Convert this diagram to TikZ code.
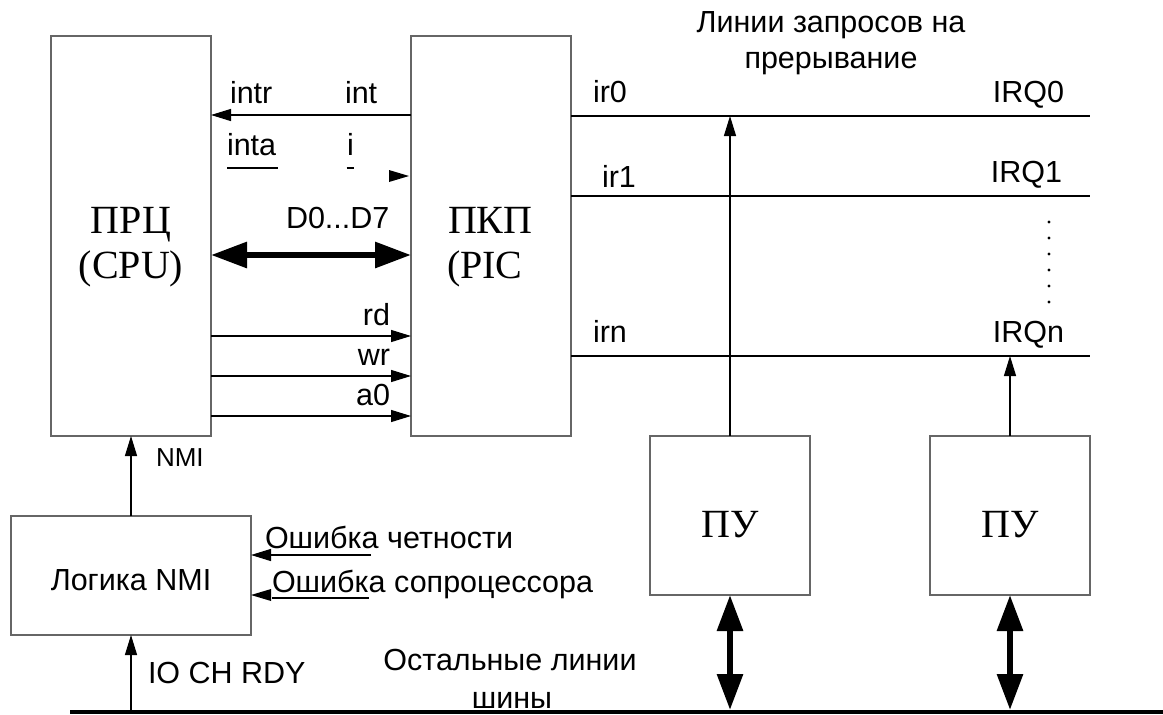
\documentclass[tikz,border=0pt]{standalone}
\usepackage{fontspec}
\setmainfont{Liberation Serif}
\setsansfont{Liberation Sans}
\usetikzlibrary{arrows.meta}
\begin{document}
\begin{tikzpicture}[x=1pt,y=-1pt,
  box/.style={draw=black!60,line width=1.5pt,rectangle,outer sep=0pt,inner sep=0pt},
  lab/.style={font=\sffamily\fontsize{30.5}{35}\selectfont,inner sep=0pt,outer sep=0pt},
  smalllab/.style={font=\sffamily\fontsize{26}{30}\selectfont,inner sep=0pt,outer sep=0pt},
  big/.style={font=\rmfamily\fontsize{40}{45}\selectfont,inner sep=0pt,outer sep=0pt},
  wire/.style={line width=1.3pt,black},
  thinarr/.style={wire,-{Triangle[length=20pt,width=12pt]}},
  busarr/.style={line width=6pt,{Triangle[length=36pt,width=25pt]}-{Triangle[length=36pt,width=25pt]}},
  uline/.style={line width=2.5pt}
]
\fill[white] (0,0) rectangle (1163,715);
\useasboundingbox (0,0) rectangle (1163,715);

% boxes
\node[box,minimum width=160pt,minimum height=400pt] (cpu) at (131,236) {};
\node[box,minimum width=160pt,minimum height=400pt] (pic) at (491,236) {};
\node[box,minimum width=240pt,minimum height=119pt] (nmi) at (131,575.5) {};
\node[box,minimum width=160pt,minimum height=159pt] (pu1) at (730,515.5) {};
\node[box,minimum width=160pt,minimum height=159pt] (pu2) at (1010,515.5) {};

% box texts
\node[big,anchor=base] (cput1) at (131,233) {ПРЦ};
\node[big,anchor=base] (cput2) at (131,278) {(CPU)};
\node[big,anchor=base west] (pict1) at (448,233) {ПКП};
\node[big,anchor=base west] (pict2) at (447,278) {(PIC};
\node[lab,anchor=base] (nmit) at (131,590) {Логика NMI};
\node[big,anchor=base] (pu1t) at (730,537) {ПУ};
\node[big,anchor=base] (pu2t) at (1010,537) {ПУ};

% bus line
\coordinate (busL) at (70,712);
\coordinate (busR) at (1163,712);
\draw[line width=4pt] (busL) -- (busR);

% CPU <-> PIC signals
\draw[thinarr] (pic.west |- 0,115) -- (cpu.east |- 0,115);
\node[lab,anchor=base west] (lintr) at (230,103) {intr};
\node[lab,anchor=base west] (lint) at (345,103) {int};
\node[lab,anchor=base west] (linta) at (227,155) {inta};
\draw[uline] (227,168) -- (278,168);
\node[lab,anchor=base west] (li) at (347,155) {i};
\draw[uline] (346.5,168) -- (354,168);
\fill (pic.west |- 0,176) ++(-2,0) -- ++(-20,-6) -- ++(0,12) -- cycle;

\draw[busarr] (cpu.east |- 0,255) -- (pic.west |- 0,255);
\node[lab,anchor=base west] (ld) at (286,228) {D0...D7};

\draw[thinarr] (cpu.east |- 0,336) -- (pic.west |- 0,336);
\draw[thinarr] (cpu.east |- 0,376) -- (pic.west |- 0,376);
\draw[thinarr] (cpu.east |- 0,416) -- (pic.west |- 0,416);
\node[lab,anchor=base east] (lrd) at (390,325) {rd};
\node[lab,anchor=base east] (lwr) at (390,365) {wr};
\node[lab,anchor=base east] (la0) at (390,405) {a0};

% IRQ lines
\coordinate (irq0) at (1090,116);
\coordinate (irq1) at (1090,196);
\coordinate (irqn) at (1090,356);
\draw[wire] (pic.east |- irq0) -- (irq0);
\draw[wire] (pic.east |- irq1) -- (irq1);
\draw[wire] (pic.east |- irqn) -- (irqn);
\node[lab,anchor=base west] (lir0) at (593,102) {ir0};
\node[lab,anchor=base west] (lir1) at (602,187) {ir1};
\node[lab,anchor=base west] (lirn) at (593,342) {irn};
\node[lab,anchor=base east] (lq0) at (1064,102) {IRQ0};
\node[lab,anchor=base east] (lq1) at (1062,182) {IRQ1};
\node[lab,anchor=base east] (lqn) at (1064,342) {IRQn};
\foreach \yy in {222,238,254,270,286,302} \fill (1049,\yy) circle (1.6pt);
\node[lab,anchor=base] (ltitle1) at (831,32) {Линии запросов на};
\node[lab,anchor=base] (ltitle2) at (831,68) {прерывание};

\draw[thinarr] (pu1.north) -- (pu1.north |- irq0);
\draw[thinarr] (pu2.north) -- (pu2.north |- irqn);

% bus connections
\draw[busarr] (pu1.south) -- (pu1.south |- 0,710);
\draw[busarr] (pu2.south) -- (pu2.south |- 0,710);
\node[lab,anchor=base] (lrest1) at (510,670) {Остальные линии};
\node[lab,anchor=base] (lrest2) at (512,708) {шины};

% NMI logic
\draw[thinarr] (nmi.north) -- (cpu.south);
\node[smalllab,anchor=base west] (lnmi) at (156,466) {NMI};
\draw[thinarr] (nmi.south |- busL) -- (nmi.south);
\node[lab,anchor=base west] (lio) at (148,683) {IO CH RDY};

\coordinate (par) at (371,555);
\draw[thinarr] (par) -- (nmi.east |- par);
\node[lab,anchor=base west] (lpar) at (265,548) {Ошибка четности};
\fill (nmi.east |- 0,595) -- ++(20,-6) -- ++(0,12) -- cycle;
\node[lab,anchor=base west] (lcop) at (272,592) {Ошибка сопроцессора};
\draw[uline] (272,598) -- (369,598);
\end{tikzpicture}
\end{document}
